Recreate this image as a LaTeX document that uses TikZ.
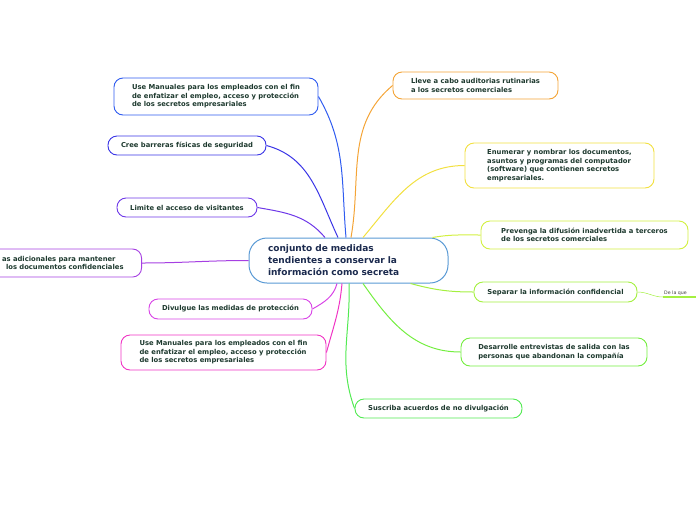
\documentclass[tikz,border=0pt]{standalone}
\usepackage{fontspec}
\setmainfont{DejaVu Sans}
\usepackage{tikz}
\usetikzlibrary{positioning}
\definecolor{ink}{HTML}{1E3A2F}
\definecolor{core}{HTML}{1B2A4E}
\definecolor{coreline}{HTML}{5A9AD5}
\definecolor{cblue}{HTML}{2F5CF0}
\definecolor{cindigo}{HTML}{3A35E6}
\definecolor{cviolet}{HTML}{6E38E8}
\definecolor{cpurple}{HTML}{A640E2}
\definecolor{corchid}{HTML}{D844E6}
\definecolor{cpink}{HTML}{F034C4}
\definecolor{cgreen}{HTML}{52EA52}
\definecolor{cspring}{HTML}{74EE40}
\definecolor{clime}{HTML}{A4F040}
\definecolor{cchart}{HTML}{D2F040}
\definecolor{cyellow}{HTML}{F2E040}
\definecolor{corange}{HTML}{F4A436}

\begin{document}
\begin{tikzpicture}[x=1pt, y=1pt,
  topic/.style={rectangle, rounded corners=9pt, draw=#1, line width=0.9pt, fill=white, align=left, text=ink, inner sep=1pt, font=\bfseries\fontsize{6.8}{8.6}\selectfont},
  central/.style={rectangle, rounded corners=18pt, draw=coreline, line width=1pt, fill=white, align=left, text=core, text width=161pt, inner xsep=19pt, inner ysep=1pt, minimum height=45pt, font=\bfseries\fontsize{9}{12}\selectfont},
  branch/.style={draw=#1, line width=1pt}
]
\useasboundingbox (0,0) rectangle (696,-520);

\node[central] (c) at (348.5,-260.5) {conjunto de medidas\\tendientes a conservar la\\información como secreta};

\node[topic=cblue, minimum width=204pt, minimum height=37pt] (n1) at (216,-96.5) {Use Manuales para los empleados con el fin\\de enfatizar el empleo, acceso y protección\\de los secretos empresariales};
\node[topic=cindigo, minimum width=158pt, minimum height=19pt] (n2) at (187,-145.5) {Cree barreras físicas de seguridad};
\node[topic=cviolet, minimum width=140pt, minimum height=19pt] (n3) at (187,-207.5) {Limite el acceso de visitantes};
\node[topic=cpurple, anchor=east, inner xsep=18pt, minimum height=28pt] (n4) at (142,-263) {as adicionales para mantener\\\hspace*{4pt}los documentos confidenciales};
\node[topic=corchid, minimum width=163pt, minimum height=20pt] (n5) at (230.5,-309) {Divulgue las medidas de protección};
\node[topic=cpink, minimum width=205pt, minimum height=35pt] (n6) at (223.5,-352.5) {Use Manuales para los empleados con el fin\\de enfatizar el empleo, acceso y protección\\de los secretos empresariales};

\node[topic=corange, minimum width=165pt, minimum height=27pt] (n7) at (475.5,-85.5) {Lleve a cabo auditorias rutinarias\\a los secretos comerciales};
\node[topic=cyellow, minimum width=189pt, minimum height=45pt] (n8) at (559.5,-165.5) {Enumerar y nombrar los documentos,\\asuntos y programas del computador\\(software) que contienen secretos\\empresariales.};
\node[topic=cchart, minimum width=207pt, minimum height=28pt] (n9) at (584.5,-235) {Prevenga la difusión inadvertida a terceros\\de los secretos comerciales};
\node[topic=clime, minimum width=163pt, minimum height=20pt] (n10) at (555.5,-292) {Separar la información confidencial};
\node[topic=cspring, minimum width=186pt, minimum height=28pt] (n11) at (554,-352) {Desarrolle entrevistas de salida con las\\personas que abandonan la compañía};
\node[topic=cgreen, minimum width=167pt, minimum height=19pt] (n12) at (438.5,-408.5) {Suscriba acuerdos de no divulgación};

\node[anchor=south west, inner sep=1pt, text=black!75, font=\fontsize{4.7}{5}\selectfont] (sub) at (663,-297) {De la que};
\coordinate (subend) at (700,-297);

\draw[branch=cblue] ([xshift=-2.5pt]c.north) to[out=95, in=-60] (n1.east);
\draw[branch=cindigo] ([xshift=-10.5pt]c.north) to[out=115, in=-15] (n2.east);
\draw[branch=cviolet] ([xshift=-23.5pt]c.north) to[out=130, in=-10] (n3.east);
\draw[branch=cpurple] (c.west) to[out=180, in=0] (n4.east);
\draw[branch=corchid] ([xshift=-11.5pt]c.south) to[out=-105, in=30] (n5.east);
\draw[branch=cpink] ([xshift=-6.5pt]c.south) to[out=-95, in=75] (n6.east);
\draw[branch=cgreen] ([xshift=0.5pt]c.south) to[out=-88, in=110] (n12.west);
\draw[branch=cspring] ([xshift=14.5pt]c.south) to[out=-55, in=180] (n11.west);
\draw[branch=clime] ([xshift=-38pt]c.south east) to[out=-15, in=180] (n10.west);
\draw[branch=cchart] ([xshift=-16pt]c.north east) to[out=10, in=180] (n9.west);
\draw[branch=cyellow] ([xshift=14.5pt]c.north) to[out=50, in=180] (n8.west);
\draw[branch=corange] ([xshift=2.5pt]c.north) to[out=80, in=-140] (n7.west);

\draw[branch=clime, line width=0.5pt] (n10.east) to[out=0, in=180] (sub.south west);
\draw[clime, line width=2pt] (sub.south west) -- (subend);
\end{tikzpicture}
\end{document}
